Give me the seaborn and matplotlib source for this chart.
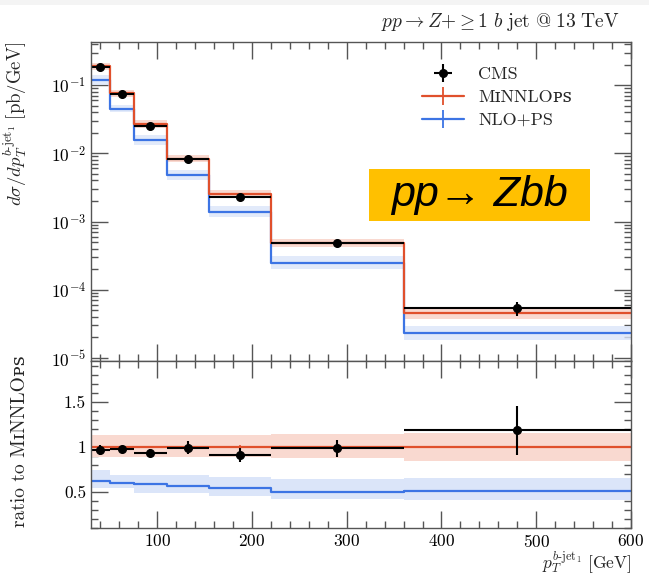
import numpy as np
import matplotlib
matplotlib.use("Agg")
import matplotlib.pyplot as plt
import seaborn as sns
from matplotlib.lines import Line2D
from matplotlib.patches import Rectangle
from matplotlib.ticker import MultipleLocator, FuncFormatter, LogLocator, NullFormatter

# bin edges of the leading b-jet pT [GeV]
edges = [30, 50, 75, 110, 155, 220, 360, 600]
centers = [40, 62.5, 92.5, 132.5, 187.5, 290, 480]

# MiNNLO_PS cross section [pb/GeV]
minnlo = [0.189, 0.0755, 0.027, 0.0084, 0.00256, 0.000489, 4.5e-5]
minnlo_band_lo = [0.88, 0.88, 0.88, 0.88, 0.88, 0.87, 0.84]
minnlo_band_hi = [1.13, 1.13, 1.13, 1.13, 1.13, 1.14, 1.15]
minnlo_stat = [0.01, 0.01, 0.01, 0.012, 0.015, 0.02, 0.04]

# NLO+PS relative to MiNNLO_PS
nlo_ratio = [0.62, 0.60, 0.58, 0.567, 0.537, 0.50, 0.51]
nlo_band_lo = [0.54, 0.54, 0.49, 0.49, 0.45, 0.415, 0.41]
nlo_band_hi = [0.74, 0.68, 0.68, 0.68, 0.667, 0.64, 0.655]

# CMS data relative to MiNNLO_PS
cms_ratio = [0.963, 0.97, 0.933, 0.99, 0.908, 0.98, 1.18]
cms_err = [0.055, 0.03, 0.04, 0.07, 0.075, 0.095, 0.27]

RED = "#e0502c"
BLUE = "#3c74e4"
RED_BAND = "#f9d9d0"
BLUE_BAND = "#dbe5f9"
AXC = "#555555"
FAMS = ["cmr10", "DejaVu Serif", "DejaVu Sans", "Noto Sans"]

sns.set_theme(style="ticks")
plt.rcParams["font.family"] = FAMS
plt.rcParams["mathtext.fontset"] = "cm"
plt.rcParams["axes.formatter.use_mathtext"] = True
plt.rcParams["axes.unicode_minus"] = False

MINNLO_LABEL = "M\u026aNNLO\u1d18\ua731"

edges = np.array(edges)
centers = np.array(centers)
minnlo = np.array(minnlo)
nlo = minnlo * np.array(nlo_ratio)
cms = minnlo * np.array(cms_ratio)
cms_abs_err = minnlo * np.array(cms_err)
xerr = [centers - edges[:-1], edges[1:] - centers]


def step(v):
    return np.append(v, v[-1])


fig = plt.figure(figsize=(6.49, 5.79), dpi=100)
ax1 = fig.add_axes([0.1402, 0.3765, 0.832, 0.551])
ax2 = fig.add_axes([0.1402, 0.0886, 0.832, 0.2879], sharex=ax1)

# faint grey strip at the very top of the screenshot
fig.patches.append(Rectangle((0, 1 - 5 / 579), 1, 5 / 579, transform=fig.transFigure,
                             fc="#f4f4f4", ec="none", zorder=0))

# ---- upper panel
ax1.fill_between(edges, step(minnlo * np.array(minnlo_band_lo)), step(minnlo * np.array(minnlo_band_hi)),
                 step="post", color=RED_BAND, lw=0)
ax1.fill_between(edges, step(minnlo * np.array(nlo_band_lo)), step(minnlo * np.array(nlo_band_hi)),
                 step="post", color=BLUE_BAND, lw=0, alpha=0.8)
sns.lineplot(x=edges, y=step(nlo), drawstyle="steps-post", color=BLUE, lw=1.6, ax=ax1)
sns.lineplot(x=edges, y=step(minnlo), drawstyle="steps-post", color=RED, lw=1.6, ax=ax1)
ax1.errorbar(centers, nlo, yerr=nlo * 0.02, fmt="none", ecolor=BLUE, elinewidth=1.2)
ax1.errorbar(centers, minnlo, yerr=minnlo * np.array(minnlo_stat), fmt="none", ecolor=RED, elinewidth=1.2)
h_cms = ax1.errorbar(centers, cms, xerr=xerr, yerr=cms_abs_err, fmt="o", color="black",
                     ms=5.5, elinewidth=1.5, capsize=0)
ax1.set_yscale("log")
ax1.set_ylim(9e-6, 0.43)
ax1.set_ylabel(r"$d\sigma/dp_T^{b\text{-jet}_1}\;[\mathrm{pb/GeV}]$", fontsize=13.5, loc="top")
ax1.text(0.98, 1.047, r"$pp \rightarrow Z{+} \geq 1\ b\ \mathrm{jet\ @\ 13\ TeV}$",
         transform=ax1.transAxes, ha="right", va="baseline", fontsize=14)

h_min = Line2D([], [], color=RED, lw=1.6, marker="|", markersize=13, markeredgewidth=1.3)
h_nlo = Line2D([], [], color=BLUE, lw=1.6, marker="|", markersize=13, markeredgewidth=1.3)
ax1.legend([h_cms, h_min, h_nlo], ["CMS", MINNLO_LABEL, "NLO+PS"], numpoints=1,
           loc="upper left", bbox_to_anchor=(0.6, 0.945), frameon=False, fontsize=13,
           handlelength=2.3, borderaxespad=0, labelspacing=0.4)

fig.patches.append(Rectangle((369 / 649, 1 - 221 / 579), 221 / 649, 52 / 579,
                             transform=fig.transFigure, fc="#ffc000", ec="none", zorder=5))
fig.text(479.5 / 649, 1 - 195 / 579, "pp\u2192 Zbb", ha="center", va="center", fontsize=31,
         style="italic", family=["Liberation Sans", "DejaVu Sans"], color="black", zorder=6)

# ---- ratio panel
ax2.fill_between(edges, step(np.array(minnlo_band_lo)), step(np.array(minnlo_band_hi)),
                 step="post", color=RED_BAND, lw=0)
ax2.fill_between(edges, step(np.array(nlo_band_lo)), step(np.array(nlo_band_hi)),
                 step="post", color=BLUE_BAND, lw=0)
sns.lineplot(x=edges, y=step(np.array(nlo_ratio)), drawstyle="steps-post", color=BLUE, lw=1.6, ax=ax2)
sns.lineplot(x=edges, y=step(np.ones(len(minnlo))), drawstyle="steps-post", color=RED, lw=1.6, ax=ax2)
ax2.errorbar(centers, np.ones(len(minnlo)), yerr=minnlo_stat, fmt="none", ecolor=RED, elinewidth=1.2)
ax2.errorbar(centers, cms_ratio, xerr=xerr, yerr=cms_err, fmt="o", color="black",
             ms=5.5, elinewidth=1.5, capsize=0)
ax2.set_ylim(0.1, 1.95)
ax2.set_xlim(30, 600)
ax2.set_ylabel("ratio to " + MINNLO_LABEL, fontsize=14)
ax2.set_xlabel(r"$p_T^{b\text{-jet}_1}\ [\mathrm{GeV}]$", loc="right", fontsize=12.5, labelpad=0)

ax2.xaxis.set_major_locator(MultipleLocator(100))
ax2.xaxis.set_minor_locator(MultipleLocator(20))
ax2.yaxis.set_major_locator(MultipleLocator(0.5))
ax2.yaxis.set_minor_locator(MultipleLocator(0.1))
ax2.yaxis.set_major_formatter(FuncFormatter(lambda v, p: f"{v:g}"))
ax1.yaxis.set_major_locator(LogLocator(base=10, numticks=10))
ax1.yaxis.set_minor_locator(LogLocator(base=10, subs=np.arange(2, 10), numticks=10))
ax1.yaxis.set_minor_formatter(NullFormatter())

for ax in (ax1, ax2):
    for s in ax.spines.values():
        s.set_color(AXC)
        s.set_linewidth(1.0)
    ax.tick_params(which="both", direction="in", top=True, right=True, width=1.0,
                   labelsize=12.5, colors="black")
    ax.tick_params(which="both", color=AXC)
    ax.tick_params(which="major", length=12)
    ax.tick_params(which="minor", length=5)
ax1.tick_params(labelbottom=False)
ax1.yaxis.set_label_coords(-0.115, 1.0)
ax2.yaxis.set_label_coords(-0.115, 0.52)

fig.savefig("out.png", dpi=100)
